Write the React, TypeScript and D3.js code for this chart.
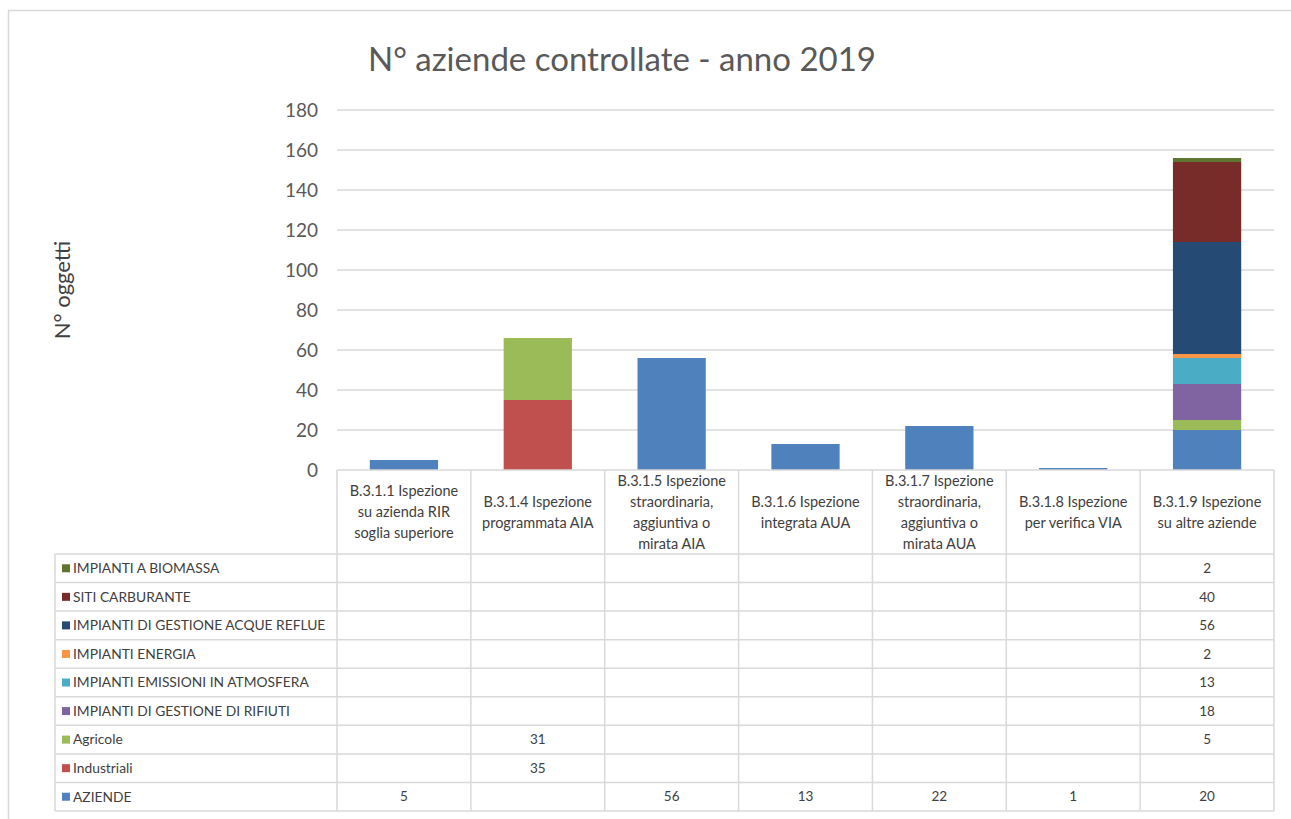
import React from "react";
import * as d3 from "d3";

const title = "N° aziende controllate - anno 2019";
const yTitle = "N° oggetti";

const categories = [
  "B.3.1.1 Ispezione su azienda RIR soglia superiore",
  "B.3.1.4 Ispezione programmata AIA",
  "B.3.1.5 Ispezione straordinaria, aggiuntiva o mirata AIA",
  "B.3.1.6 Ispezione integrata AUA",
  "B.3.1.7 Ispezione straordinaria, aggiuntiva o mirata AUA",
  "B.3.1.8 Ispezione per verifica VIA",
  "B.3.1.9 Ispezione su altre aziende",
];
const categoryLines = [
  ["B.3.1.1 Ispezione", "su azienda RIR", "soglia superiore"],
  ["B.3.1.4 Ispezione", "programmata AIA"],
  ["B.3.1.5 Ispezione", "straordinaria,", "aggiuntiva o", "mirata AIA"],
  ["B.3.1.6 Ispezione", "integrata AUA"],
  ["B.3.1.7 Ispezione", "straordinaria,", "aggiuntiva o", "mirata AUA"],
  ["B.3.1.8 Ispezione", "per verifica VIA"],
  ["B.3.1.9 Ispezione", "su altre aziende"],
];

// series, bottom of the stack first
const seriesNames = [
  "AZIENDE",
  "Industriali",
  "Agricole",
  "IMPIANTI DI GESTIONE DI RIFIUTI",
  "IMPIANTI EMISSIONI IN ATMOSFERA",
  "IMPIANTI ENERGIA",
  "IMPIANTI DI GESTIONE ACQUE REFLUE",
  "SITI CARBURANTE",
  "IMPIANTI A BIOMASSA",
];
const seriesColors = [
  "#4F81BD",
  "#C0504D",
  "#9BBB59",
  "#8064A2",
  "#4BACC6",
  "#F79646",
  "#254B74",
  "#772C2A",
  "#5F7530",
];

const aziende = [5, null, 56, 13, 22, 1, 20];
const industriali = [null, 35, null, null, null, null, null];
const agricole = [null, 31, null, null, null, null, 5];
const rifiuti = [null, null, null, null, null, null, 18];
const emissioni = [null, null, null, null, null, null, 13];
const energia = [null, null, null, null, null, null, 2];
const acqueReflue = [null, null, null, null, null, null, 56];
const sitiCarburante = [null, null, null, null, null, null, 40];
const biomassa = [null, null, null, null, null, null, 2];

const seriesValues: (number | null)[][] = [
  aziende,
  industriali,
  agricole,
  rifiuti,
  emissioni,
  energia,
  acqueReflue,
  sitiCarburante,
  biomassa,
];

const yTicks = [0, 20, 40, 60, 80, 100, 120, 140, 160, 180];

const W = 1291;
const H = 819;
const plotLeft = 337;
const plotRight = 1274;
const plotTop = 110;
const plotBottom = 470;
const headerBottom = 554;
const tableBottom = 811;
const legendLeft = 55;

const FONT = "Lato, 'Open Sans', sans-serif";
const GRID = "#d9d9d9";
const TEXT = "#595959";

export default function App() {
  const x = d3.scaleBand<string>().domain(categories).range([plotLeft, plotRight]).padding(0);
  const y = d3.scaleLinear().domain([0, 180]).range([plotBottom, plotTop]);

  const table = categories.map((c, i) => {
    const row: Record<string, number | string> = { cat: c };
    seriesNames.forEach((s, j) => {
      row[s] = seriesValues[j][i] ?? 0;
    });
    return row;
  });
  const stacked = d3.stack<Record<string, number | string>>().keys(seriesNames)(table as any);

  const bw = x.bandwidth();
  const barW = bw * 0.51;

  // table rows: top row = last series
  const rowOrder = seriesNames.map((_, j) => seriesNames.length - 1 - j);
  const rowY = d3
    .scaleBand<number>()
    .domain(rowOrder)
    .range([headerBottom, tableBottom])
    .padding(0);
  const rh = rowY.bandwidth();

  return (
    <svg
      width={W}
      height={H}
      style={{ position: "absolute", left: 0, top: 0, background: "#fff" }}
      fontFamily={FONT}
    >
      <rect x={0} y={0} width={W} height={H} fill="#fff" />
      {/* outer chart frame */}
      <rect x={8.5} y={10.5} width={W + 20} height={H + 20} fill="none" stroke={GRID} strokeWidth={1.5} />

      <text x={622} y={71} textAnchor="middle" fontSize={33} fill={TEXT}>
        {title}
      </text>

      {/* gridlines */}
      {yTicks.map((t) =>
        t === 0 ? null : (
          <line key={t} x1={plotLeft} x2={plotRight} y1={y(t)} y2={y(t)} stroke={GRID} strokeWidth={1.5} />
        )
      )}
      {yTicks.map((t) => (
        <text key={"l" + t} x={318} y={y(t)} dy="0.35em" textAnchor="end" fontSize={19} fill={TEXT}>
          {t}
        </text>
      ))}
      <text
        transform={`translate(70,${290}) rotate(-90)`}
        textAnchor="middle"
        fontSize={22}
        fill="#404040"
      >
        {yTitle}
      </text>

      {/* bars */}
      {stacked.map((layer, j) => (
        <g key={seriesNames[j]} fill={seriesColors[j]}>
          {layer.map((d, i) => {
            const v = d[1] - d[0];
            if (!v) return null;
            const cx = (x(categories[i]) as number) + bw / 2;
            return (
              <rect key={i} x={cx - barW / 2} y={y(d[1])} width={barW} height={y(d[0]) - y(d[1])} />
            );
          })}
        </g>
      ))}

      {/* table grid */}
      <g stroke={GRID} strokeWidth={1.5} fill="none">
        <line x1={plotLeft} x2={plotRight} y1={plotBottom} y2={plotBottom} />
        {rowOrder.map((j) => (
          <line key={"h" + j} x1={legendLeft} x2={plotRight} y1={rowY(j)} y2={rowY(j)} />
        ))}
        <line x1={legendLeft} x2={plotRight} y1={tableBottom} y2={tableBottom} />
        <line x1={legendLeft} x2={legendLeft} y1={headerBottom} y2={tableBottom} />
        {categories.map((c) => (
          <line key={"v" + c} x1={x(c)} x2={x(c)} y1={plotBottom} y2={tableBottom} />
        ))}
        <line x1={plotRight} x2={plotRight} y1={plotBottom} y2={tableBottom} />
      </g>

      {/* header labels */}
      {categoryLines.map((lines, i) => {
        const cx = (x(categories[i]) as number) + bw / 2;
        const lh = 21;
        const midY = (plotBottom + headerBottom) / 2;
        const y0 = midY - ((lines.length - 1) * lh) / 2;
        return (
          <text key={"c" + i} textAnchor="middle" fontSize={14.5} fill="#404040">
            {lines.map((l, k) => (
              <tspan key={k} x={cx} y={y0 + k * lh} dy="0.35em">
                {l}
              </tspan>
            ))}
          </text>
        );
      })}

      {/* legend column */}
      {rowOrder.map((j) => {
        const yy = (rowY(j) as number) + rh / 2;
        return (
          <g key={"lg" + j}>
            <rect x={62} y={yy - 4} width={8} height={8} fill={seriesColors[j]} />
            <text x={73} y={yy} dy="0.35em" fontSize={13.8} fill="#404040">
              {seriesNames[j]}
            </text>
          </g>
        );
      })}

      {/* values */}
      {rowOrder.map((j) =>
        seriesValues[j].map((v, i) =>
          v == null ? null : (
            <text
              key={`v${j}-${i}`}
              x={(x(categories[i]) as number) + bw / 2}
              y={(rowY(j) as number) + rh / 2}
              dy="0.35em"
              textAnchor="middle"
              fontSize={13.5}
              fill="#404040"
            >
              {v}
            </text>
          )
        )
      )}
    </svg>
  );
}
